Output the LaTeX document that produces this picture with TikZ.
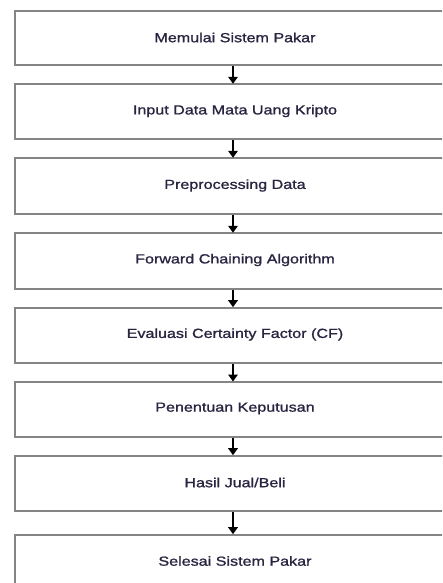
\documentclass[tikz,border=0pt]{standalone}
\usepackage{fontspec}
\setmainfont{Liberation Sans}
\newfontfamily\labelfont[FakeStretch=1.22,FakeBold=1.1]{Liberation Sans}
\usetikzlibrary{arrows.meta}
\definecolor{boxgray}{HTML}{858585}
\definecolor{labeltext}{HTML}{2A2440}
\begin{document}
\begin{tikzpicture}[x=1pt,y=-1pt,
  stepbox/.style={draw=boxgray,line width=2pt,fill=white,minimum width=480pt,
    anchor=north west,inner sep=0pt},
  steplabel/.style={font=\labelfont\fontsize{13.2}{15}\selectfont,text=labeltext},
  flow/.style={draw=black,line width=1.6pt,-{Triangle[width=9.5pt,length=7pt]},shorten >=-0.5pt}]
\useasboundingbox (0,0) rectangle (442,583);
\clip (0,0) rectangle (442,583);
% process boxes (they run past the right and bottom edges)
\node[stepbox,minimum height=54.3pt] (s1) at (14,10) {};
\node[stepbox,minimum height=55pt] (s2) at (14,83.3) {};
\node[stepbox,minimum height=56pt] (s3) at (14,157.3) {};
\node[stepbox,minimum height=55.4pt] (s4) at (14,232.3) {};
\node[stepbox,minimum height=55.6pt] (s5) at (14,306.7) {};
\node[stepbox,minimum height=54.7pt] (s6) at (14,381) {};
\node[stepbox,minimum height=55.6pt] (s7) at (14,454.7) {};
\node[stepbox,minimum height=55pt] (s8) at (14,533.7) {};
% labels
\node[steplabel] (t1) at (235,37.5) {Memulai Sistem Pakar};
\node[steplabel] (t2) at (235,111) {Input Data Mata Uang Kripto};
\node[steplabel] (t3) at (235,185.5) {Preprocessing Data};
\node[steplabel] (t4) at (235,260) {Forward Chaining Algorithm};
\node[steplabel] (t5) at (235,334.5) {Evaluasi Certainty Factor (CF)};
\node[steplabel] (t6) at (235,408.5) {Penentuan Keputusan};
\node[steplabel] (t7) at (235,482.5) {Hasil Jual/Beli};
\node[steplabel] (t8) at (235,561) {Selesai Sistem Pakar};
% connectors
\foreach \a/\b in {s1/s2,s2/s3,s3/s4,s4/s5,s5/s6,s6/s7,s7/s8}
  \draw[flow] (\a.south west -| 233,0) -- (\b.north west -| 233,0);
\end{tikzpicture}
\end{document}
